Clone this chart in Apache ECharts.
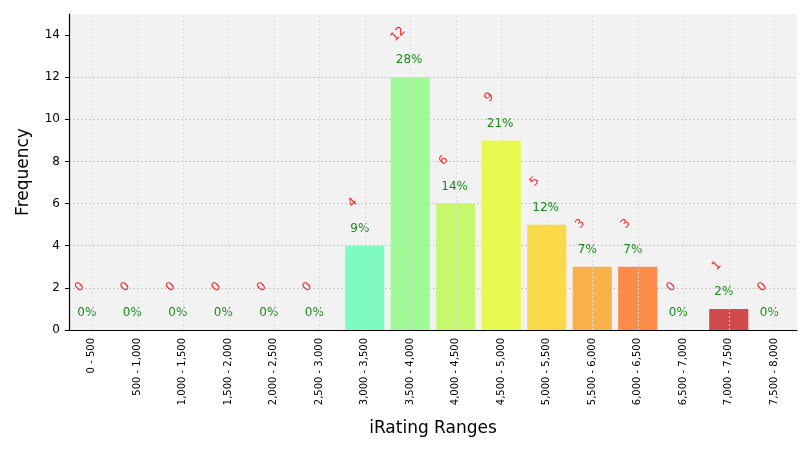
<!DOCTYPE html>
<html>
<head>
<meta charset="utf-8">
<script src="https://cdn.jsdelivr.net/npm/echarts@6/dist/echarts.min.js"></script>
<style>html,body{margin:0;padding:0;background:#fff}#c{width:810px;height:450px}</style>
</head>
<body>
<div id="c"></div>
<script>
var categories = ['0 - 500','500 - 1,000','1,000 - 1,500','1,500 - 2,000','2,000 - 2,500','2,500 - 3,000','3,000 - 3,500','3,500 - 4,000','4,000 - 4,500','4,500 - 5,000','5,000 - 5,500','5,500 - 6,000','6,000 - 6,500','6,500 - 7,000','7,000 - 7,500','7,500 - 8,000'];
var counts = [0,0,0,0,0,0,4,12,6,9,5,3,3,0,1,0];
var percents = ['0%','0%','0%','0%','0%','0%','9%','28%','14%','21%','12%','7%','7%','0%','2%','0%'];
var barColors = ['#7ffac0','#7ffac0','#7ffac0','#7ffac0','#7ffac0','#7ffac0','#7ffac0','#a1fa98','#c5f86c','#e8fa52','#fad948','#fbb14a','#fc8a48','#e05a48','#d14a4b','#d14a4b'];
var yTicks = [0,2,4,6,8,10,12,14];

var font = 'DejaVu Sans';
var chart = echarts.init(document.getElementById('c'));
chart.setOption({
  animation: false,
  textStyle: {fontFamily: font},
  grid: {left: 69, right: 13, top: 14, bottom: 120, show: true, backgroundColor: '#f2f2f2', borderWidth: 0,
    containLabel: false, outerBoundsMode: 'none'},
  xAxis: {
    type: 'category', data: categories,
    name: 'iRating Ranges', nameLocation: 'middle', nameGap: 90,
    nameTextStyle: {fontSize: 17, color: '#000', fontFamily: font},
    axisLine: {lineStyle: {color: '#000', width: 1.2}},
    axisTick: {alignWithLabel: true, length: 4, lineStyle: {color: '#000'}},
    axisLabel: {rotate: 90, fontSize: 10, color: '#000', interval: 0, margin: 8},
    splitLine: {show: false}
  },
  yAxis: {
    type: 'value', min: 0, max: 15, interval: 2,
    name: 'Frequency', nameLocation: 'middle', nameGap: 37,
    nameTextStyle: {fontSize: 17, color: '#000', fontFamily: font},
    axisLine: {show: true, lineStyle: {color: '#000', width: 1.2}},
    axisTick: {show: true, length: 4, lineStyle: {color: '#000'},
      customValues: yTicks},
    axisLabel: {fontSize: 12, color: '#000', margin: 9, customValues: yTicks,
      formatter: function (v) { return yTicks.indexOf(v) >= 0 ? String(v) : ''; }},
    splitLine: {showMaxLine: false, lineStyle: {color: '#c8c8c8', type: [2, 2], width: 1}}
  },
  series: [
    {
      type: 'bar', data: counts.map(function (v, i) { return {value: v, itemStyle: {color: barColors[i]}}; }),
      barCategoryGap: '14%', z: 2,
      label: {show: true, position: ['13%', -17], align: 'left', verticalAlign: 'middle',
        color: '#1a8a1a', fontSize: 12,
        formatter: function (p) { return percents[p.dataIndex]; }},
      markLine: {
        silent: true, symbol: 'none', label: {show: false},
        lineStyle: {color: '#dcdcdc', type: [2, 2], width: 1},
        data: categories.map(function (c) { return {xAxis: c}; })
      }
    },
    {
      type: 'bar', data: counts, barGap: '-100%', barCategoryGap: '14%', silent: true, z: 3,
      itemStyle: {color: 'rgba(0,0,0,0)'},
      label: {show: true, position: ['19%', -43], align: 'center', verticalAlign: 'middle',
        rotate: 45, color: '#ff2020', fontSize: 12,
        formatter: function (p) { return String(counts[p.dataIndex]); }}
    }
  ]
});
</script>
</body>
</html>
